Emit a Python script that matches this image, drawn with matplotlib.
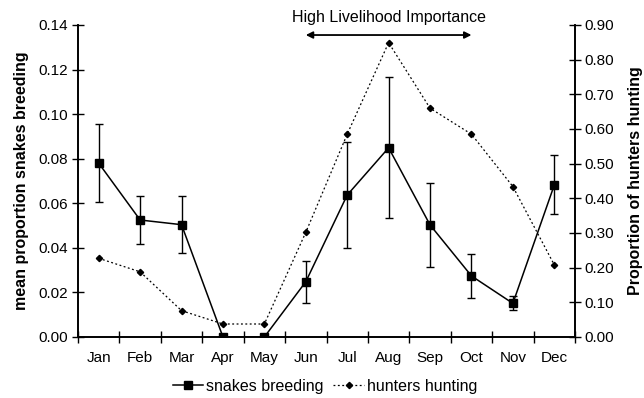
import numpy as np
import matplotlib.pyplot as plt
from matplotlib.lines import Line2D

plt.rcParams['font.family'] = ['Liberation Sans', 'DejaVu Sans']

months = ['Jan', 'Feb', 'Mar', 'Apr', 'May', 'Jun', 'Jul', 'Aug', 'Sep', 'Oct', 'Nov', 'Dec']
snakes = [0.078, 0.0525, 0.0504, 0.0, 0.0, 0.0248, 0.0637, 0.0849, 0.0503, 0.0274, 0.0151, 0.0682]
snakes_hi = [0.0956, 0.0634, 0.0634, 0.0, 0.0, 0.0342, 0.0874, 0.1168, 0.0692, 0.0371, 0.0184, 0.0817]
snakes_lo = [0.0604, 0.0416, 0.0378, 0.0, 0.0, 0.0154, 0.0401, 0.0533, 0.0313, 0.0174, 0.0121, 0.0551]
hunters = [0.227, 0.188, 0.076, 0.0375, 0.0375, 0.302, 0.585, 0.849, 0.660, 0.585, 0.434, 0.208]

x = np.arange(len(months))
snakes = np.array(snakes)
yerr = [snakes - np.array(snakes_lo), np.array(snakes_hi) - snakes]

fig = plt.figure(figsize=(6.44, 3.98), dpi=100)
ax = fig.add_axes([78 / 644, 1 - 337 / 398, 497 / 644, 312 / 398])
ax2 = ax.twinx()

# snakes breeding, with error bars
ax.errorbar(x, snakes, yerr=yerr, color='black', lw=1.1, marker='s', ms=5.5,
            capsize=3, elinewidth=1, capthick=1, zorder=3)
# hunters hunting
ax2.plot(x, hunters, color='black', lw=0.9, ls=(0, (1.5, 2)), marker='D', ms=3.2)

ax.set_xlim(-0.5, 11.5)
ax.set_ylim(0, 0.14)
ax2.set_ylim(0, 0.90)
ax.set_yticks(np.arange(0, 0.141, 0.02))
ax.set_yticklabels(['%.2f' % v for v in np.arange(0, 0.141, 0.02)])
ax2.set_yticks(np.arange(0, 0.91, 0.1))
ax2.set_yticklabels(['%.2f' % v for v in np.arange(0, 0.91, 0.1)])

ax.set_xticks(np.arange(-0.5, 12, 1))
ax.set_xticklabels([])
ax.set_xticks(x, minor=True)
ax.set_xticklabels(months, minor=True)
ax.tick_params(axis='x', which='minor', length=0, labelsize=11, pad=10)
ax.tick_params(axis='x', which='major', direction='inout', length=8, width=1)
ax.tick_params(axis='y', direction='inout', length=8, width=1, labelsize=11, pad=3)
ax2.tick_params(axis='y', direction='inout', length=8, width=1, labelsize=11, pad=3)

for a in (ax, ax2):
    a.spines['top'].set_visible(False)
    for s in ('left', 'right', 'bottom'):
        a.spines[s].set_linewidth(1.2)

ax.set_ylabel('mean proportion snakes breeding', fontsize=11.5, fontweight='bold', labelpad=7)
ax2.set_ylabel('Proportion of hunters hunting', fontsize=11.5, fontweight='bold', labelpad=10)

# livelihood importance arrow
ax.annotate('', xy=(9, 0.1355), xytext=(5, 0.1355),
            arrowprops=dict(arrowstyle='<|-|>', color='black', lw=1.3,
                            mutation_scale=10, shrinkA=0, shrinkB=0),
            annotation_clip=False)
ax.text(7.0, 0.1433, 'High Livelihood Importance', ha='center', va='center',
        fontsize=11.5, clip_on=False)

handles = [Line2D([], [], color='black', lw=1.1, marker='s', ms=5.5),
           Line2D([], [], color='black', lw=0.9, ls=(0, (1.5, 2)), marker='D', ms=3.2)]
fig.legend(handles, ['snakes breeding', 'hunters hunting'], loc='center',
           bbox_to_anchor=(325 / 644, 1 - 386 / 398), ncol=2, frameon=False,
           fontsize=11.5, handlelength=1.9, handletextpad=0.2, columnspacing=0.6)

fig.savefig('out.png', dpi=100)
